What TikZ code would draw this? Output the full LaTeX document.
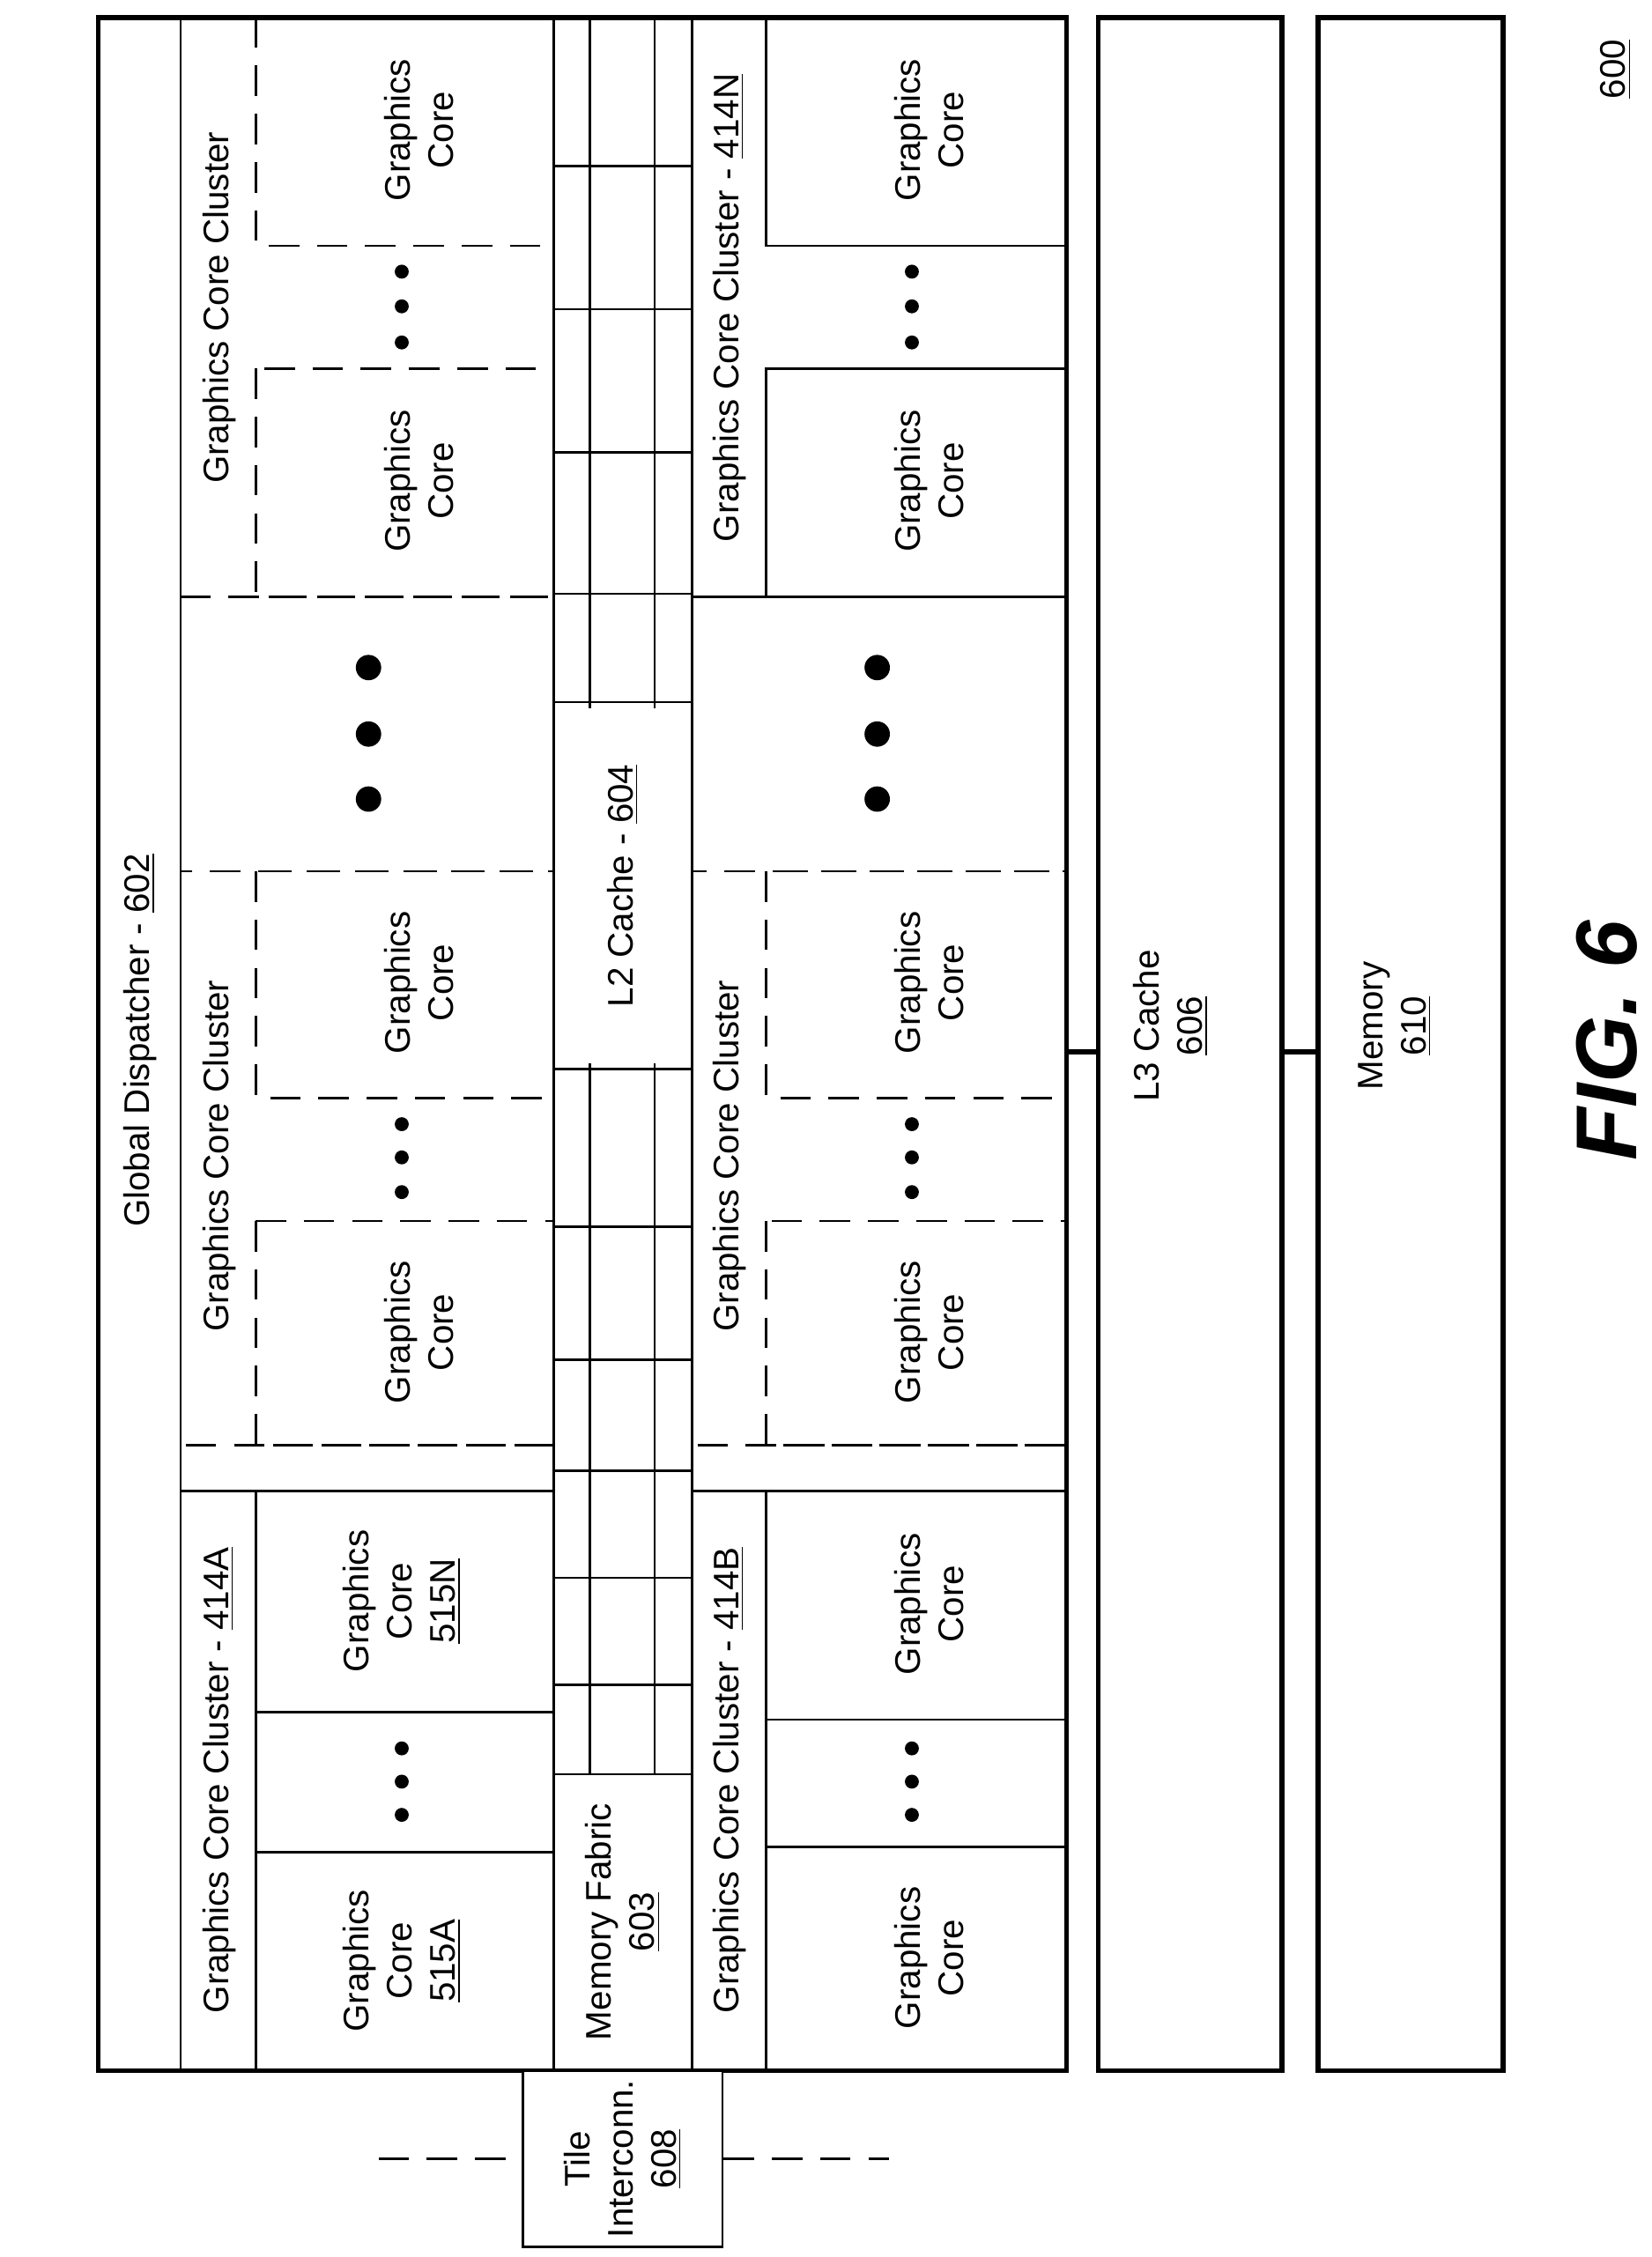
\documentclass[tikz,border=0pt]{standalone}
\usepackage{fontspec}
\setmainfont{Liberation Sans}
\usetikzlibrary{positioning}

\begin{document}
\begin{tikzpicture}[x=0.02cm,y=-0.02cm,
		solidbox/.style = {draw, line width=0.9pt},
		dashbox/.style  = {draw, dash pattern=on 12pt off 7pt, line width=0.9pt},
		thickbox/.style = {draw, line width=2pt},
		txt/.style      = {rotate=90, align=center, font=\fontsize{14}{17}\selectfont},
		bigdot/.style   = {fill, circle, inner sep=0pt, minimum size=10pt},
		smalldot/.style = {fill, circle, inner sep=0pt, minimum size=5.5pt}]

	\useasboundingbox (0,0) rectangle (1143,1562);

	% outer tile and the two caches
	\draw[thickbox] (68,12) rectangle (738,1433);
	\draw[thickbox] (760,12) rectangle (887,1433);
	\draw[thickbox] (912,12) rectangle (1040,1433);
	\draw[solidbox] (125,12) -- (125,1433);
	\node[txt] (gd) at (97,720) {Global Dispatcher - \underline{602}};

	% L2 cache grid and memory fabric
	\draw[solidbox] (383,12) -- (383,1433);
	\draw[solidbox] (479,12) -- (479,1433);
	\draw[solidbox] (408,12) -- (408,1228);
	\draw[solidbox] (453,12) -- (453,1228);
	\foreach \yy in {115,214,313,411,486,740,849,941,1018,1092,1166,1228}
		\draw[solidbox] (383,\yy) -- (479,\yy);
	\fill[white] (390,490) rectangle (472,736);
	\node[txt] (l2) at (431,613) {L2 Cache - \underline{604}};
	\node[txt] (mf) at (431,1330) {Memory Fabric\\\underline{603}};

	% upper clusters: 414A
	\draw[solidbox] (125,1032) -- (383,1032);
	\draw[solidbox] (177,1032) -- (177,1433);
	\node[txt] (c414a) at (152,1232) {Graphics Core Cluster - \underline{414A}};
	\draw[solidbox] (177,1185) -- (383,1185);
	\draw[solidbox] (177,1282) -- (383,1282);
	\node[txt] (g515n) at (278,1108) {Graphics\\Core\\\underline{515N}};
	\node[txt] (g515a) at (278,1357) {Graphics\\Core\\\underline{515A}};
	\foreach \yy in {1210,1233,1256} \node[smalldot] at (278,\yy) {};

	% upper middle cluster (dashed)
	\draw[dashbox] (125,603) rectangle (383,1000);
	\draw[dashbox] (177,603) rectangle (383,760);
	\draw[dashbox] (177,845) rectangle (383,1000);
	\node[txt] (cu2) at (152,800) {Graphics Core Cluster};
	\node[txt] (gu3) at (290,680) {Graphics\\Core};
	\node[txt] (gu4) at (290,922) {Graphics\\Core};
	\foreach \yy in {778,801,825} \node[smalldot] at (278,\yy) {};
	\foreach \yy in {462,508,553} \node[bigdot] at (255,\yy) {};

	% upper top cluster (dashed)
	\draw[dashbox] (125,12) rectangle (383,413);
	\draw[dashbox] (177,12) rectangle (383,170);
	\draw[dashbox] (177,255) rectangle (383,413);
	\node[txt] (cu1) at (152,213) {Graphics Core Cluster};
	\node[txt] (gu1) at (290,90) {Graphics\\Core};
	\node[txt] (gu2) at (290,333) {Graphics\\Core};
	\foreach \yy in {188,212,237} \node[smalldot] at (278,\yy) {};

	% lower clusters: 414B
	\draw[solidbox] (479,1032) -- (738,1032);
	\draw[solidbox] (530,1032) -- (530,1433);
	\node[txt] (c414b) at (505,1232) {Graphics Core Cluster - \underline{414B}};
	\draw[solidbox] (530,1190) -- (738,1190);
	\draw[solidbox] (530,1278) -- (738,1278);
	\node[txt] (gl5) at (643,1110) {Graphics\\Core};
	\node[txt] (gl6) at (643,1355) {Graphics\\Core};
	\foreach \yy in {1210,1233,1256} \node[smalldot] at (631,\yy) {};

	% lower middle cluster (dashed)
	\draw[dashbox] (479,603) rectangle (738,1000);
	\draw[dashbox] (530,603) rectangle (738,760);
	\draw[dashbox] (530,845) rectangle (738,1000);
	\node[txt] (cl2) at (505,800) {Graphics Core Cluster};
	\node[txt] (gl3) at (643,680) {Graphics\\Core};
	\node[txt] (gl4) at (643,922) {Graphics\\Core};
	\foreach \yy in {778,801,825} \node[smalldot] at (631,\yy) {};
	\foreach \yy in {462,508,553} \node[bigdot] at (607,\yy) {};

	% lower top cluster: 414N
	\draw[solidbox] (479,413) -- (738,413);
	\draw[solidbox] (530,12) rectangle (738,170);
	\draw[solidbox] (530,255) rectangle (738,413);
	\node[txt] (c414n) at (505,213) {Graphics Core Cluster - \underline{414N}};
	\node[txt] (gl1) at (643,90) {Graphics\\Core};
	\node[txt] (gl2) at (643,333) {Graphics\\Core};
	\foreach \yy in {188,212,237} \node[smalldot] at (631,\yy) {};

	% cache labels and links
	\node[txt] (l3) at (810,710) {L3 Cache\\\underline{606}};
	\node[txt] (mem) at (965,710) {Memory\\\underline{610}};
	\draw[thickbox] (738,728) -- (760,728);
	\draw[thickbox] (887,728) -- (912,728);

	% tile interconnect
	\node[solidbox, fill=white, minimum width=2.76cm, minimum height=2.44cm, inner sep=0pt] (ti) at (431,1494) {};
	\node[txt] (tic) at (ti.center) {Tile\\Interconn.\\\underline{608}};
	\coordinate (tl) at (262,1494);
	\coordinate (tr) at (615,1494);
	\draw[dashbox] (tl) -- (ti.west);
	\draw[dashbox] (ti.east) -- (tr);

	% figure labels
	\node[txt] (num) at (1118,48) {\underline{600}};
	\node[rotate=90, font=\fontsize{34}{40}\selectfont\bfseries\itshape] (fig) at (1112,720) {FIG. 6};
\end{tikzpicture}
\end{document}
